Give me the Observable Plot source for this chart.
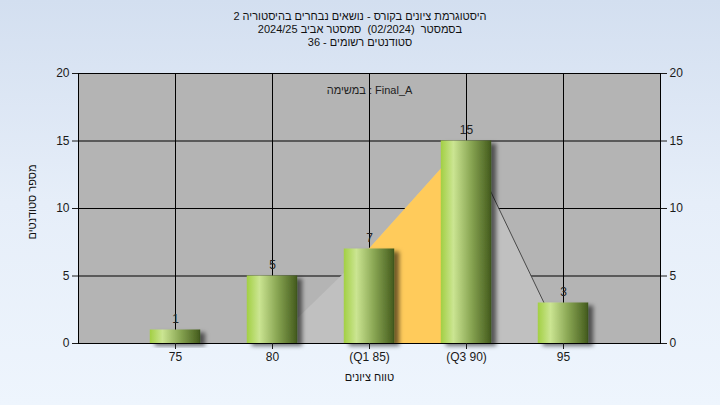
<!DOCTYPE html>
<html>
<head>
<meta charset="utf-8">
<script src="https://cdn.jsdelivr.net/npm/d3@7"></script>
<script src="https://cdn.jsdelivr.net/npm/@observablehq/plot@0.6"></script>
<style>
  html, body { margin: 0; padding: 0; }
  #wrap { position: relative; width: 720px; height: 405px; overflow: hidden;
    background: linear-gradient(to bottom, #d3dff0 0%, #e6eef9 50%, #eef5fd 100%);
    font-family: "Liberation Sans", Arial, sans-serif; color: #111; }
  #title { position: absolute; top: 10px; left: 0; width: 720px; text-align: center;
    font-size: 11px; line-height: 13px; }
  #title div { direction: rtl; white-space: pre; text-align: center; }
  #ytitle { position: absolute; left: -28px; top: 195px; width: 120px; height: 14px; line-height: 14px;
    text-align: center; font-size: 11px; direction: rtl; white-space: nowrap; transform: rotate(-90deg); }
  #chart { position: absolute; left: 0; top: 0; }
</style>
</head>
<body>
<div id="wrap">
  <div id="chart"></div>
  <div id="title"></div>
  <div id="ytitle"></div>
</div>
<script>
// ---- data ----
const titleLines = [
  "היסטוגרמת ציונים בקורס - נושאים נבחרים בהיסטוריה 2",
  "בסמסטר  (02/2024)  סמסטר אביב 2024/25",
  "סטודנטים רשומים - 36"
];
const xTitle = "טווח ציונים";
const yTitle = "מספר סטודנטים";
const taskLabel = "במשימה : Final_A";

const grades = [75, 80, 85, 90, 95];
const categories = ["75", "80", "(Q1 85)", "(Q3 90)", "95"];
const counts = [1, 5, 7, 15, 3];

// background distribution area
const areaX = [75, 80, 85, 90, 94, 95];
const areaY = [0, 0, 7, 15, 3, 3];
const q1 = 85, q3 = 90;

const yTicks = [0, 5, 10, 15, 20];

// ---- build ----
document.getElementById("title").innerHTML = titleLines.map(t => `<div>${t}</div>`).join("");
document.getElementById("ytitle").textContent = yTitle;

const bars = grades.map((g, i) => ({g, c: counts[i], label: categories[i]}));
const area = areaX.map((x, i) => ({x, y: areaY[i]}));
const halfW = 1.3;

const chart = Plot.plot({
  width: 720, height: 405,
  marginTop: 73, marginBottom: 62, marginLeft: 78, marginRight: 60,
  style: {background: "transparent", fontFamily: "'Liberation Sans', Arial, sans-serif", fontSize: "12px", color: "#1a1a1a"},
  x: {type: "linear", domain: [70, 100]},
  y: {domain: [0, 20]},
  marks: [
    Plot.frame({fill: "#b4b4b4"}),
    Plot.gridY({ticks: yTicks, stroke: "#000", strokeOpacity: 1}),
    Plot.gridX({ticks: grades, stroke: "#000", strokeOpacity: 1}),
    Plot.areaY(area, {x: "x", y: "y", fill: "#c0c0c0"}),
    Plot.areaY(area.filter(d => d.x >= q1 && d.x <= q3), {x: "x", y: "y", fill: "#ffcb5b"}),
    Plot.line(area.filter(d => d.x >= q3 && d.x <= 94), {x: "x", y: "y", stroke: "#4a4a4a", strokeWidth: 1}),
    Plot.frame({stroke: "#000"}),
    Plot.rectY(bars, {x1: d => d.g - halfW, x2: d => d.g + halfW, y: "c", fill: "url(#barGrad)"}),
    Plot.text(bars, {x: "g", y: "c", text: d => String(d.c), dy: -11, fill: "#222", fontSize: 12}),
    Plot.text([taskLabel], {frameAnchor: "top", dx: 0, dy: 13, fill: "#222", fontSize: 11}),
    Plot.text([xTitle], {frameAnchor: "bottom", dy: 37, fill: "#111", fontSize: 11}),
    Plot.axisY({ticks: yTicks, anchor: "left", tickSize: 6, label: null}),
    Plot.axisY({ticks: yTicks, anchor: "right", tickSize: 6, label: null}),
    Plot.axisX({ticks: grades, tickFormat: d => categories[grades.indexOf(d)], tickSize: 6, label: null})
  ]
});

// gradient + shadow defs
const ns = "http://www.w3.org/2000/svg";
const defs = document.createElementNS(ns, "defs");
defs.innerHTML = `
  <linearGradient id="barGrad" x1="0" x2="1" y1="0" y2="0">
    <stop offset="0" stop-color="#a2cf43"/>
    <stop offset="0.25" stop-color="#cbe592"/>
    <stop offset="0.6" stop-color="#89a653"/>
    <stop offset="0.95" stop-color="#4c6423"/>
    <stop offset="1" stop-color="#3d531a"/>
  </linearGradient>
  <filter id="shadow" x="-20%" y="-20%" width="150%" height="150%">
    <feDropShadow dx="5" dy="3" stdDeviation="2" flood-color="#000" flood-opacity="0.55"/>
  </filter>`;
chart.insertBefore(defs, chart.firstChild);
d3.select(chart).selectAll("g[aria-label='rect'] rect").attr("filter", "url(#shadow)");

document.getElementById("chart").appendChild(chart);
</script>
</body>
</html>
